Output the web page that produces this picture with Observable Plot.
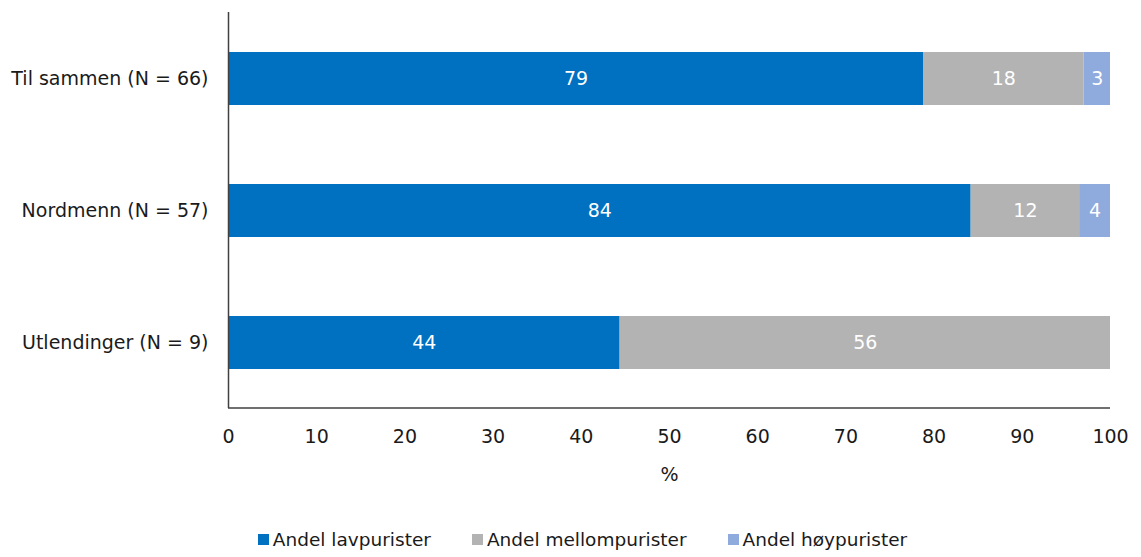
<!DOCTYPE html>
<html>
<head>
<meta charset="utf-8">
<script src="https://cdn.jsdelivr.net/npm/d3@7"></script>
<script src="https://cdn.jsdelivr.net/npm/@observablehq/plot@0.6"></script>
<style>
  body { margin: 0; background: #fff; font-family: "DejaVu Sans", sans-serif; }
  #legend { display: flex; justify-content: center; gap: 41px; font-size: 18.5px; color: #1a1a1a; margin-top: 29px; padding-left: 24px; }
  #legend span.item { display: flex; align-items: center; }
  #legend span.sw { width: 11px; height: 11px; display: inline-block; margin-right: 4px; }
</style>
</head>
<body>
<div id="chart"></div>
<div id="legend"></div>
<script>
const groups = ["Til sammen (N = 66)", "Nordmenn (N = 57)", "Utlendinger (N = 9)"];
const series = ["Andel lavpurister", "Andel mellompurister", "Andel høypurister"];
const colors = ["#0070C0", "#B3B3B4", "#8FAADC"];
const lav = [78.8, 84.2, 44.4];
const mellom = [18.2, 12.3, 55.6];
const hoy = [3.0, 3.5, 0];
const xTicks = [0, 10, 20, 30, 40, 50, 60, 70, 80, 90, 100];

const data = [];
groups.forEach((g, i) => {
  [lav, mellom, hoy].forEach((arr, j) => {
    if (arr[i] > 0) data.push({group: g, series: series[j], value: arr[i]});
  });
});

const baseline = (index, scales, values, dims) => {
  const ns = "http://www.w3.org/2000/svg";
  const g = document.createElementNS(ns, "g");
  const line = document.createElementNS(ns, "line");
  line.setAttribute("x1", dims.marginLeft);
  line.setAttribute("x2", dims.width - dims.marginRight);
  line.setAttribute("y1", dims.height - dims.marginBottom);
  line.setAttribute("y2", dims.height - dims.marginBottom);
  line.setAttribute("stroke", "#404040");
  line.setAttribute("stroke-width", 1.5);
  g.appendChild(line);
  return g;
};

const chart = Plot.plot({
  width: 1141,
  height: 500,
  marginLeft: 228,
  marginRight: 31,
  marginTop: 12,
  marginBottom: 92,
  style: {fontFamily: "'DejaVu Sans', sans-serif", fontSize: "19px", color: "#1a1a1a", background: "white"},
  x: {domain: [0, 100], ticks: xTicks},
  y: {domain: groups, paddingInner: 0.6, paddingOuter: 0.3},
  color: {domain: series, range: colors},
  marks: [
    Plot.barX(data, Plot.stackX({x: "value", y: "group", fill: "series", z: "series", order: series})),
    Plot.text(data, Plot.stackX({x: "value", y: "group", z: "series", order: series, text: d => String(Math.round(d.value)), fill: "white", fontSize: 19})),
    Plot.ruleX([0], {stroke: "#404040", strokeWidth: 1.5}),
    baseline,
    Plot.axisX({ticks: xTicks, tickSize: 0, tickPadding: 21, fontSize: 19, label: "%", labelAnchor: "center", labelArrow: "none", labelOffset: 72}),
    Plot.axisY({tickSize: 0, tickPadding: 20, fontSize: 19, label: null})
  ]
});
document.getElementById("chart").appendChild(chart);

const legend = document.getElementById("legend");
series.forEach((s, i) => {
  const item = document.createElement("span");
  item.className = "item";
  const sw = document.createElement("span");
  sw.className = "sw";
  sw.style.background = colors[i];
  item.appendChild(sw);
  item.appendChild(document.createTextNode(s));
  legend.appendChild(item);
});
</script>
</body>
</html>
